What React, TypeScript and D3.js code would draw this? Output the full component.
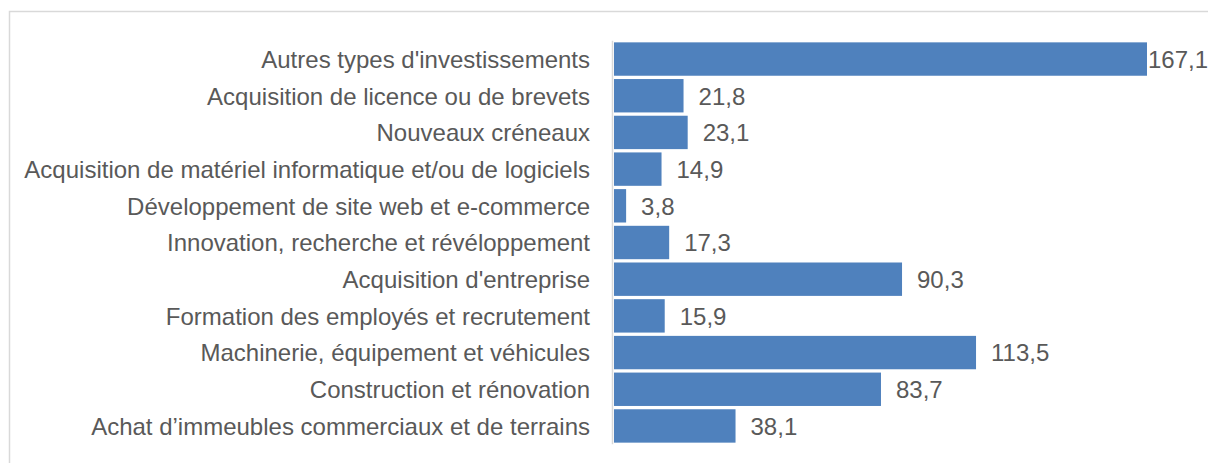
import React from "react";
import * as d3 from "d3";

const categories = [
  "Autres types d'investissements",
  "Acquisition de licence ou de brevets",
  "Nouveaux créneaux",
  "Acquisition de matériel informatique et/ou de logiciels",
  "Développement de site web et e-commerce",
  "Innovation, recherche et révéloppement",
  "Acquisition d'entreprise",
  "Formation des employés et recrutement",
  "Machinerie, équipement et véhicules",
  "Construction et rénovation",
  "Achat d’immeubles commerciaux et de terrains",
];

const values = [167.1, 21.8, 23.1, 14.9, 3.8, 17.3, 90.3, 15.9, 113.5, 83.7, 38.1];

const fmt = (v: number) => v.toFixed(1).replace(".", ",");

export default function App() {
  const width = 1208;
  const height = 463;

  const x = d3.scaleLinear().domain([0, 167.1]).range([614, 1147]);
  const y = d3
    .scaleBand<string>()
    .domain(categories)
    .range([40.7, 444.3])
    .paddingInner(0.09)
    .paddingOuter(0.045);

  const font = "'Liberation Sans', Arial, sans-serif";

  // labels get pushed back so they stay inside the picture
  const labelX = (v: number) => Math.min(x(v) + 15, width - 60);

  return (
    <svg
      width={width}
      height={height}
      style={{ position: "absolute", left: 0, top: 0 }}
    >
      <rect x={0} y={0} width={width} height={height} fill="#fff" />
      {/* chart frame */}
      <path d={`M9.5,${height} V11.5 H${width}`} fill="none" stroke="#d9d9d9" strokeWidth={1.5} />

      {categories.map((c, i) => (
        <g key={c}>
          <rect
            x={x(0)}
            y={y(c)!}
            width={x(values[i]) - x(0)}
            height={y.bandwidth()}
            fill="#4f81bd"
          />
          <text
            x={590}
            y={y(c)! + y.bandwidth() / 2}
            dy="0.37em"
            textAnchor="end"
            fontFamily={font}
            fontSize={24}
            fill="#595959"
          >
            {c}
          </text>
          <text
            x={labelX(values[i])}
            y={y(c)! + y.bandwidth() / 2}
            dy="0.37em"
            fontFamily={font}
            fontSize={24}
            fill="#595959"
          >
            {fmt(values[i])}
          </text>
        </g>
      ))}

      {/* axis line */}
      <line x1={612.5} x2={612.5} y1={y.range()[0]} y2={y.range()[1]} stroke="#d9d9d9" strokeWidth={1.5} />
    </svg>
  );
}
